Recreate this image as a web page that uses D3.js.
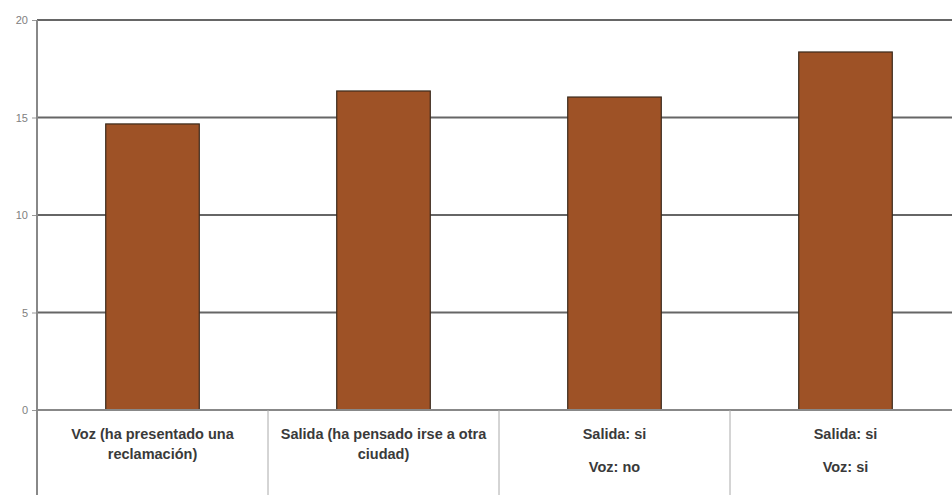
<!DOCTYPE html>
<html>
<head>
<meta charset="utf-8">
<script src="https://cdn.jsdelivr.net/npm/d3@7"></script>
<style>
  html, body { margin: 0; padding: 0; background: #fff; }
  svg { display: block; }
</style>
</head>
<body>
<svg id="chart" width="952" height="495"></svg>
<script>
// Categories (each label split into its display lines)
const categories = [
  ["Voz (ha presentado una", "reclamación)"],
  ["Salida (ha pensado irse a otra", "ciudad)"],
  ["Salida: si", "Voz: no"],
  ["Salida: si", "Voz: si"]
];
const values = [14.67, 16.36, 16.05, 18.36];
const yTicks = [0, 5, 10, 15, 20];

const svg = d3.select("#chart");
const plotLeft = 37, plotRight = 961, plotTop = 20, plotBase = 410, plotBottom = 495;
const labelFont = "'Liberation Sans Narrow', 'Arial Narrow', 'Liberation Sans', sans-serif";

const x = d3.scaleBand()
  .domain(d3.range(categories.length))
  .range([plotLeft, plotRight])
  .paddingInner(0)
  .paddingOuter(0);

const y = d3.scaleLinear().domain([0, 20]).range([plotBase, plotTop]);

// Horizontal gridlines
svg.append("g")
  .selectAll("line")
  .data(yTicks.filter(d => d > 0))
  .join("line")
  .attr("x1", plotLeft).attr("x2", 952)
  .attr("y1", d => y(d)).attr("y2", d => y(d))
  .attr("stroke", "#666").attr("stroke-width", 2);

// Y axis
const yAxis = d3.axisLeft(y).tickValues(yTicks).tickSize(5).tickPadding(4);
const gy = svg.append("g").attr("transform", `translate(${plotLeft},0)`).call(yAxis);
gy.select(".domain").remove();
gy.selectAll(".tick line").attr("stroke", "#999");
gy.selectAll(".tick text")
  .attr("fill", "#808080")
  .style("font-family", labelFont)
  .style("font-size", "11px");

// Bars
const barW = x.bandwidth() * 0.405;
svg.append("g")
  .selectAll("rect")
  .data(values)
  .join("rect")
  .attr("x", (d, i) => x(i) + (x.bandwidth() - barW) / 2)
  .attr("y", d => y(d))
  .attr("width", barW)
  .attr("height", d => y(0) - y(d))
  .attr("fill", "#9E5226")
  .attr("stroke", "#3b2a1c")
  .attr("stroke-width", 1.2);

// Left axis line and baseline
svg.append("line")
  .attr("x1", plotLeft).attr("x2", plotLeft)
  .attr("y1", plotTop).attr("y2", plotBottom)
  .attr("stroke", "#888").attr("stroke-width", 2);
svg.append("line")
  .attr("x1", plotLeft).attr("x2", 952)
  .attr("y1", plotBase).attr("y2", plotBase)
  .attr("stroke", "#888").attr("stroke-width", 2);

// Category table separators
svg.append("g")
  .selectAll("line")
  .data(d3.range(1, categories.length))
  .join("line")
  .attr("x1", i => x(i)).attr("x2", i => x(i))
  .attr("y1", plotBase).attr("y2", plotBottom)
  .attr("stroke", "#aaa").attr("stroke-width", 1);

// Category labels
const lineGap = [[0, 20], [0, 20], [0, 33], [0, 33]];
const lab = svg.append("g")
  .selectAll("text")
  .data(categories)
  .join("text")
  .attr("text-anchor", "middle")
  .attr("fill", "#3a3a3a")
  .style("font-family", labelFont)
  .style("font-weight", "bold")
  .style("font-size", "14.5px");
lab.each(function (lines, i) {
  const t = d3.select(this);
  lines.forEach((s, k) => {
    t.append("tspan")
      .attr("x", x(i) + x.bandwidth() / 2)
      .attr("y", 439 + lineGap[i][k])
      .text(s);
  });
});
</script>
</body>
</html>
